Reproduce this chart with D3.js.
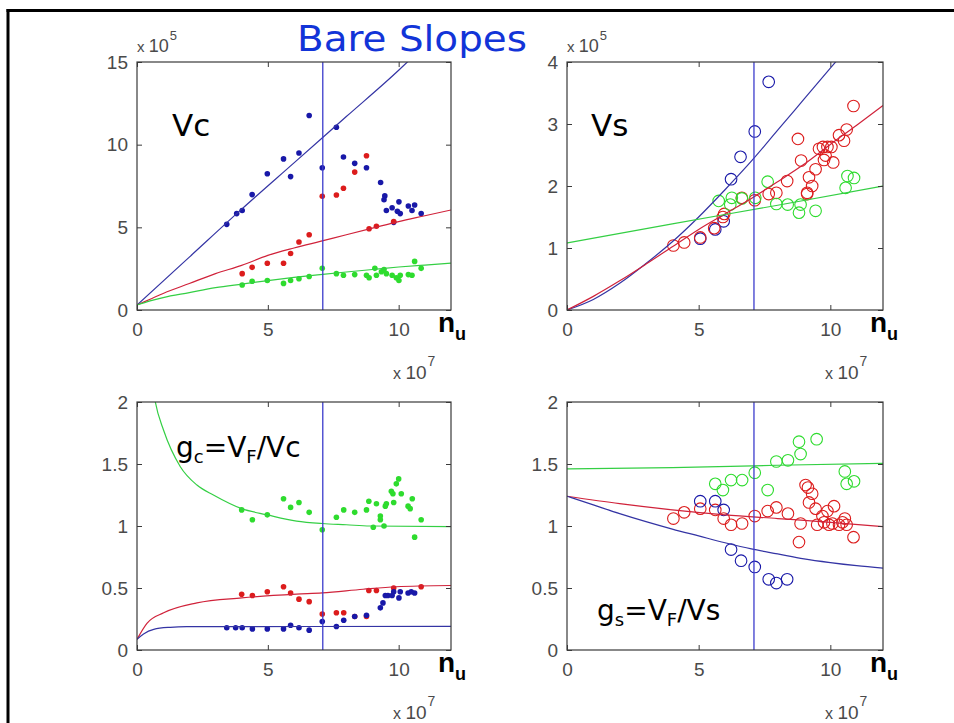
<!DOCTYPE html>
<html>
<head>
<meta charset="utf-8">
<script src="https://cdn.jsdelivr.net/npm/d3@7/dist/d3.min.js"></script>
<style>
  html, body { margin: 0; padding: 0; background: #fff; }
  svg { display: block; }
</style>
</head>
<body>
<script>
// ---- data (n in units of 1e7) ----
const nTicks = [0, 5, 10];
const nCut = 7.1;

// Vc (x 1e5)
const vcTicks = [0, 5, 10, 15];
const vcBlue = [[3.43,5.18],[3.81,5.83],[4.02,6.02],[4.40,6.98],[4.98,8.24],[5.60,9.14],[5.87,8.07],[6.19,9.50],[6.58,11.76],[7.08,8.60],[7.62,11.05],[7.89,9.25],[8.32,8.87],[8.77,8.60],[9.31,7.71],[9.47,6.90],[9.44,6.67],[9.53,6.02],[9.75,6.18],[9.81,5.30],[10.01,6.54],[9.95,5.97],[10.06,5.83],[10.37,6.29],[10.61,6.35],[10.51,6.02],[10.86,5.83]];
const vcRed = [[4.02,2.20],[4.40,2.58],[4.98,2.83],[5.60,2.83],[5.87,3.42],[6.19,4.11],[6.58,4.55],[7.08,6.88],[7.62,6.96],[7.89,7.36],[8.32,8.34],[8.77,9.33],[8.87,4.91],[9.15,5.07],[9.81,5.35]];
const vcGreen = [[4.02,1.51],[4.40,1.74],[4.98,1.78],[5.60,1.61],[5.87,1.78],[6.19,1.89],[6.58,2.03],[7.08,2.52],[7.62,2.20],[7.89,2.10],[8.32,2.14],[8.77,2.10],[8.87,1.95],[9.09,2.52],[9.15,2.10],[9.34,2.31],[9.44,2.45],[9.53,2.20],[9.75,2.10],[9.91,1.95],[10.01,1.78],[10.06,2.10],[10.37,2.14],[10.51,2.10],[10.61,2.94],[10.86,2.52]];
const vcBlueFit = [[0,0.3],[2,3.2],[4,6.1],[6,8.9],[8,11.7],[10,14.5],[10.4,15.1]];
const vcRedFit = [[0,0.3],[0.5,0.65],[1,1.0],[2,1.6],[3,2.2],[4,2.7],[5,3.3],[6,3.75],[7,4.15],[8,4.55],[9,4.95],[10,5.35],[11,5.7],[12,6.05]];
const vcGreenFit = [[0,0.3],[0.5,0.55],[1,0.75],[2,1.05],[3,1.35],[4,1.57],[5,1.78],[6,1.97],[7,2.14],[8,2.3],[9,2.45],[10,2.6],[11,2.72],[12,2.83]];

// Vs (x 1e5)
const vsTicks = [0, 1, 2, 3, 4];
const vsBlue = [[5.06,1.15],[5.63,1.30],[5.95,1.43],[6.23,2.11],[6.59,2.47],[7.13,2.88],[7.66,3.68]];
const vsRed = [[4.04,1.04],[4.45,1.09],[5.06,1.17],[5.59,1.32],[5.92,1.50],[5.97,1.55],[6.64,1.81],[7.13,1.77],[7.66,1.87],[7.95,1.89],[8.36,2.08],[8.77,2.76],[8.89,2.41],[9.12,1.89],[9.12,1.87],[9.19,2.14],[9.31,2.00],[9.44,2.27],[9.57,2.60],[9.72,2.63],[9.76,2.42],[9.82,2.49],[9.89,2.63],[10.04,2.63],[10.11,2.38],[10.33,2.82],[10.52,2.73],[10.62,2.91],[10.88,3.29]];
const vsGreen = [[5.76,1.76],[6.20,1.70],[6.26,1.81],[6.64,1.80],[7.15,1.81],[7.62,2.07],[7.95,1.71],[8.38,1.70],[8.87,1.70],[8.81,1.57],[9.44,1.60],[10.58,1.97],[10.65,2.16],[10.90,2.13]];
const vsBlueFit = [[0,0],[1,0.17],[2,0.43],[3,0.75],[4,1.1],[5,1.5],[6,1.94],[7,2.4],[8,2.9],[9,3.4],[10,3.9],[10.3,4.05]];
const vsRedFit = [[0,0],[1,0.22],[2,0.47],[3,0.74],[4,1.02],[5,1.3],[6,1.55],[7,1.8],[8,2.07],[9,2.35],[10,2.67],[11,2.98],[12,3.3]];
const vsGreenFit = [[0,1.08],[4,1.39],[8,1.69],[12,2.0]];

// gc = VF/Vc
const gTicks = [0, 0.5, 1, 1.5, 2];
const gcGreen = [[4.0,1.13],[4.41,1.05],[4.98,1.09],[5.60,1.22],[5.87,1.15],[6.19,1.19],[6.58,1.11],[7.08,0.97],[7.62,1.07],[7.90,1.13],[8.32,1.11],[8.77,1.13],[8.86,1.20],[9.03,0.99],[9.15,1.18],[9.30,1.08],[9.30,1.05],[9.44,1.00],[9.49,1.16],[9.53,1.18],[9.72,1.28],[9.78,1.26],[9.81,1.19],[9.91,1.34],[10.0,1.38],[10.10,1.26],[10.36,1.16],[10.44,1.14],[10.52,1.22],[10.61,0.91],[10.86,1.05]];
const gcRed = [[4.0,0.45],[4.41,0.44],[4.98,0.47],[5.60,0.51],[5.87,0.46],[6.19,0.41],[6.58,0.39],[7.08,0.29],[7.62,0.30],[7.90,0.30],[8.32,0.27],[8.77,0.27],[8.86,0.48],[9.15,0.48],[9.81,0.50],[10.86,0.51]];
const gcBlue = [[3.43,0.18],[3.77,0.18],[4.02,0.18],[4.41,0.17],[4.98,0.17],[5.60,0.17],[5.87,0.20],[6.19,0.18],[6.58,0.16],[7.08,0.23],[7.62,0.19],[7.90,0.24],[8.32,0.27],[8.77,0.28],[9.30,0.34],[9.40,0.38],[9.49,0.44],[9.59,0.44],[9.75,0.44],[9.81,0.47],[10.01,0.42],[10.06,0.47],[10.36,0.46],[10.48,0.47],[10.61,0.46]];
const gcGreenFit = [[0.62,2.1],[0.70,2.0],[1.02,1.77],[1.65,1.48],[2.29,1.33],[2.92,1.25],[4.0,1.14],[4.98,1.09],[6.10,1.04],[7.08,1.02],[8.0,1.01],[8.9,1.0],[12,0.995]];
const gcRedFit = [[0,0.086],[0.38,0.215],[1.02,0.30],[2.29,0.38],[4.0,0.42],[6.10,0.45],[7.08,0.46],[8.64,0.49],[9.91,0.51],[12,0.52]];
const gcBlueFit = [[0,0.086],[0.25,0.13],[0.64,0.167],[1.27,0.183],[1.9,0.188],[12,0.19]];

// gs = VF/Vs
const gsGreen = [[5.63,1.34],[5.92,1.29],[6.23,1.37],[6.65,1.37],[7.13,1.43],[7.62,1.29],[7.95,1.52],[8.39,1.53],[8.87,1.58],[8.81,1.68],[9.48,1.70],[10.55,1.44],[10.62,1.34],[10.90,1.36]];
const gsBlue = [[5.06,1.20],[5.63,1.20],[5.95,1.13],[6.23,0.81],[6.61,0.72],[7.13,0.67],[7.66,0.57],[7.95,0.54],[8.36,0.57]];
const gsRed = [[4.04,1.06],[4.45,1.11],[5.06,1.14],[5.63,1.13],[5.95,1.06],[6.23,1.01],[6.65,1.02],[7.13,1.08],[7.62,1.12],[7.95,1.15],[8.39,1.10],[8.87,1.02],[8.81,0.87],[9.06,1.33],[9.15,1.31],[9.31,1.26],[9.19,1.19],[9.44,1.14],[9.50,1.01],[9.70,1.08],[9.76,1.03],[9.89,1.12],[9.95,1.01],[10.08,1.02],[10.14,1.16],[10.33,1.01],[10.46,1.03],[10.55,1.06],[10.62,1.01],[10.88,0.91]];
const gsGreenFit = [[0,1.46],[4,1.47],[8,1.49],[12,1.505]];
const gsRedFit = [[0,1.24],[2,1.18],[4,1.13],[6,1.09],[8,1.06],[10,1.03],[12,0.995]];
const gsBlueFit = [[0,1.24],[1,1.17],[2,1.10],[3,1.035],[4,0.975],[5,0.92],[6,0.865],[7,0.815],[8,0.775],[9,0.735],[10,0.705],[11,0.68],[12,0.66]];

// ---- drawing ----
const W = 954, H = 723;
const C = {
  blue: "#1818a8", red: "#dc1c1c", green: "#2edc2e",
  blueFit: "#3434a4", redFit: "#d0223a", greenFit: "#34cf44",
  vline: "#3b3bcc", axis: "#3a3a3a", tick: "#4a4a4a"
};
const tickFont = '"Liberation Sans", Arial, sans-serif';
const comic = '"DejaVu Sans", sans-serif';

const svg = d3.select("body").append("svg").attr("width", W).attr("height", H);

// outer frame (only top and left edges are visible)
svg.append("line").attr("x1", 6.5).attr("x2", W).attr("y1", 10.5).attr("y2", 10.5)
  .attr("stroke", "#000").attr("stroke-width", 3);
svg.append("line").attr("x1", 8).attr("x2", 8).attr("y1", 9).attr("y2", H)
  .attr("stroke", "#000").attr("stroke-width", 3);

let clipId = 0;

function drawPanel(cfg) {
  const x = d3.scaleLinear().domain([0, 12]).range([cfg.left, cfg.right]);
  const y = d3.scaleLinear().domain(cfg.yDomain).range([cfg.bottom, cfg.top]);
  const g = svg.append("g");

  const id = "clip" + (clipId++);
  g.append("clipPath").attr("id", id).append("rect")
    .attr("x", cfg.left).attr("y", cfg.top)
    .attr("width", cfg.right - cfg.left).attr("height", cfg.bottom - cfg.top);
  const plot = g.append("g").attr("clip-path", `url(#${id})`);

  // markers
  cfg.points.forEach(s => {
    const m = plot.selectAll(null).data(s.data).join("circle")
      .attr("cx", d => x(d[0])).attr("cy", d => y(d[1]));
    if (cfg.open) m.attr("r", 5.8).attr("fill", "none").attr("stroke", s.color).attr("stroke-width", 1.1);
    else m.attr("r", 2.8).attr("fill", s.color);
  });

  // fitted curves
  const line = d3.line().x(d => x(d[0])).y(d => y(d[1])).curve(d3.curveMonotoneX);
  cfg.fits.forEach(f => {
    plot.append("path").datum(f.data).attr("d", line)
      .attr("fill", "none").attr("stroke", f.color).attr("stroke-width", 1.2);
  });

  // cut line
  plot.append("line").attr("x1", x(nCut)).attr("x2", x(nCut))
    .attr("y1", cfg.bottom).attr("y2", cfg.top)
    .attr("stroke", C.vline).attr("stroke-width", 1.3);

  // axes, MATLAB style: inward ticks on all four sides
  const fmt = d3.format("~g");
  const ax = g.append("g").attr("transform", `translate(0,${cfg.bottom})`)
    .call(d3.axisBottom(x).tickValues(nTicks).tickFormat(fmt).tickSize(-5).tickPadding(13));
  const ay = g.append("g").attr("transform", `translate(${cfg.left},0)`)
    .call(d3.axisLeft(y).tickValues(cfg.yTicks).tickFormat(fmt).tickSize(-5).tickPadding(9));
  const at = g.append("g").attr("transform", `translate(0,${cfg.top})`)
    .call(d3.axisTop(x).tickValues(nTicks).tickFormat("").tickSize(-5));
  const ar = g.append("g").attr("transform", `translate(${cfg.right},0)`)
    .call(d3.axisRight(y).tickValues(cfg.yTicks).tickFormat("").tickSize(-5));
  [ax, ay, at, ar].forEach(a => {
    a.select(".domain").remove();
    a.selectAll(".tick line").attr("stroke", C.axis);
    a.selectAll(".tick text").attr("font-size", 19).attr("font-family", tickFont).attr("fill", C.tick);
  });
  g.append("rect").attr("x", cfg.left).attr("y", cfg.top)
    .attr("width", cfg.right - cfg.left).attr("height", cfg.bottom - cfg.top)
    .attr("fill", "none").attr("stroke", C.axis).attr("stroke-width", 1.2);

  // n_u label
  const nl = g.append("text").attr("x", cfg.right - 13).attr("y", cfg.bottom + 22)
    .attr("font-family", tickFont).attr("font-weight", "bold").attr("fill", "#000");
  nl.append("tspan").attr("font-size", 28).text("n");
  nl.append("tspan").attr("font-size", 18).attr("dy", 8).text("u");

  // x 10^7
  const e7 = g.append("text").attr("x", cfg.right - 58).attr("y", cfg.bottom + 69)
    .attr("font-family", tickFont).attr("fill", C.tick);
  e7.append("tspan").attr("font-size", 16).text("x ");
  e7.append("tspan").attr("font-size", 19).text("10");
  e7.append("tspan").attr("font-size", 14).attr("dy", -13).attr("dx", 1).text("7");

  // x 10^5 above the Vc / Vs axes
  if (cfg.e5) {
    const e5 = g.append("text").attr("x", cfg.left).attr("y", cfg.top - 10)
      .attr("font-family", tickFont).attr("fill", C.tick);
    e5.append("tspan").attr("font-size", 15).text("x ");
    e5.append("tspan").attr("font-size", 18).text("10");
    e5.append("tspan").attr("font-size", 13).attr("dy", -12).attr("dx", 1).text("5");
  }
}

const L = { left: 137, right: 451 }, R = { left: 567, right: 883 };
const T = { top: 62, bottom: 310 }, B = { top: 402, bottom: 650 };

drawPanel({ ...L, ...T, yDomain: [0, 15], yTicks: vcTicks, e5: true,
  points: [{ data: vcBlue, color: C.blue }, { data: vcRed, color: C.red }, { data: vcGreen, color: C.green }],
  fits: [{ data: vcBlueFit, color: C.blueFit }, { data: vcRedFit, color: C.redFit }, { data: vcGreenFit, color: C.greenFit }] });

drawPanel({ ...R, ...T, yDomain: [0, 4], yTicks: vsTicks, e5: true, open: true,
  points: [{ data: vsBlue, color: C.blue }, { data: vsRed, color: C.red }, { data: vsGreen, color: C.green }],
  fits: [{ data: vsBlueFit, color: C.blueFit }, { data: vsRedFit, color: C.redFit }, { data: vsGreenFit, color: C.greenFit }] });

drawPanel({ ...L, ...B, yDomain: [0, 2], yTicks: gTicks,
  points: [{ data: gcGreen, color: C.green }, { data: gcRed, color: C.red }, { data: gcBlue, color: C.blue }],
  fits: [{ data: gcGreenFit, color: C.greenFit }, { data: gcRedFit, color: C.redFit }, { data: gcBlueFit, color: C.blueFit }] });

drawPanel({ ...R, ...B, yDomain: [0, 2], yTicks: gTicks, open: true,
  points: [{ data: gsGreen, color: C.green }, { data: gsRed, color: C.red }, { data: gsBlue, color: C.blue }],
  fits: [{ data: gsGreenFit, color: C.greenFit }, { data: gsRedFit, color: C.redFit }, { data: gsBlueFit, color: C.blueFit }] });

// title and panel labels
svg.append("text").attr("x", 412).attr("y", 51).attr("text-anchor", "middle")
  .attr("font-family", comic).attr("font-size", 35).attr("fill", "#1234d8")
  .attr("textLength", 230).attr("lengthAdjust", "spacingAndGlyphs")
  .text("Bare Slopes");

svg.append("text").attr("x", 172).attr("y", 136).attr("font-family", comic)
  .attr("font-size", 31).attr("fill", "#000").text("Vc");
svg.append("text").attr("x", 591).attr("y", 136).attr("font-family", comic)
  .attr("font-size", 31).attr("fill", "#000").text("Vs");

function ratioLabel(xp, yp, sub) {
  const t = svg.append("text").attr("x", xp).attr("y", yp).attr("font-family", comic)
    .attr("font-size", 28).attr("fill", "#000");
  t.append("tspan").text("g");
  t.append("tspan").attr("font-size", 18).attr("dy", 6).text(sub);
  t.append("tspan").attr("dy", -6).text("=V");
  t.append("tspan").attr("font-size", 18).attr("dy", 6).text("F");
  t.append("tspan").attr("dy", -6).text("/V" + sub);
}
ratioLabel(176, 457, "c");
ratioLabel(597, 620, "s");
</script>
</body>
</html>
